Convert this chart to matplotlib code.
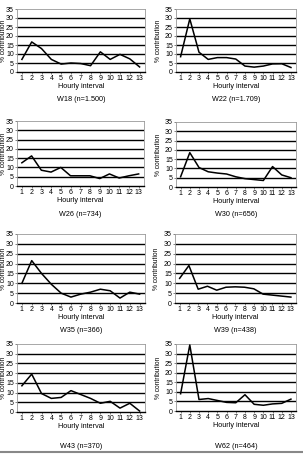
import matplotlib
matplotlib.use("Agg")
import matplotlib.pyplot as plt
from matplotlib.lines import Line2D

plt.rcParams['font.family'] = ['Liberation Sans', 'DejaVu Sans']

hours = list(range(1, 14))
w18 = [7, 16.7, 13, 7, 4.4, 5, 4.7, 3.5, 11.2, 7, 9.8, 7.3, 2.8]
w22 = [8.5, 29.5, 11, 7, 8, 8, 7.2, 3.3, 2.7, 3.3, 4.5, 4.6, 2.5]
w26 = [12.5, 16.2, 8.5, 7.5, 10, 5.5, 5.5, 5.5, 4, 6.5, 4.3, 5.5, 6.5]
w30 = [5.5, 18.5, 10.5, 8.2, 7.5, 7, 5.5, 4.5, 4, 3.5, 11, 6.5, 5]
w35 = [10, 21.5, 15, 9.5, 5, 3, 4.5, 5.5, 7, 6.2, 2.5, 5.5, 4.5]
w39 = [12.5, 19, 7, 8.5, 6.5, 8, 8.2, 8, 7.2, 4.5, 4, 3.5, 3]
w43 = [13.5, 19.5, 9.5, 7, 7.5, 11, 9, 7, 4.5, 5.5, 2, 4.5, 0.5]
w62 = [9, 34.5, 6, 6.5, 5.5, 4.5, 4.3, 8.5, 3.5, 3, 3.7, 4, 6.2]

series = [w18, w22, w26, w30, w35, w39, w43, w62]
titles = ["W18 (n=1.500)", "W22 (n=1.709)", "W26 (n=734)", "W30 (n=656)",
          "W35 (n=366)", "W39 (n=438)", "W43 (n=370)", "W62 (n=464)"]
yticks = [0, 5, 10, 15, 20, 25, 30, 35]
xlabel = "Hourly interval"
ylabel = "% contribution"

W, H = 303, 454
fig = plt.figure(figsize=(W / 100, H / 100), dpi=100)

# pixel boxes: (left, right, top, bottom, title y, ylabel x)
boxes = [
    (17, 145, 9, 72, 100, 3.3), (176, 296, 9, 72, 100, 158),
    (17, 144, 121, 186, 215, 3.3), (176, 296, 122, 187, 215, 158),
    (17, 145, 234, 303, 330, 3.3), (175, 296, 234, 303, 330, 157),
    (17, 145, 344, 412, 447, 3.3), (176, 296, 344, 411, 447, 158),
]

fs = 5.0
for data, title, (l, r, t, b, ty, lx) in zip(series, titles, boxes):
    ax = fig.add_axes([l / W, 1 - b / H, (r - l) / W, (b - t) / H])
    ax.set_xlim(0.5, 13.55)
    ax.set_ylim(0, 35)
    for v in yticks[1:-1]:
        ax.axhline(v, color='black', lw=1.0, zorder=1)
    ax.plot(hours, data, color='black', lw=1.1, zorder=3)
    ax.set_xticks(hours)
    ax.set_yticks(yticks)
    ax.tick_params(labelsize=fs, length=1.5, width=0.5, color='#555555', pad=0.7)
    for s in ['top', 'right', 'left']:
        ax.spines[s].set_color('#999999')
        ax.spines[s].set_linewidth(0.6)
    ax.spines['bottom'].set_color('black')
    ax.spines['bottom'].set_linewidth(1.0)
    ax.set_xlabel(xlabel, fontsize=fs + 0.2, labelpad=1)
    ax.set_ylabel(ylabel, fontsize=4.8, va='center')
    ax.yaxis.set_label_coords((lx - l) / (r - l), 0.5)
    fig.text((l + r) / 2 / W, 1 - ty / H, title, fontsize=fs + 0.2, ha='center', va='center')

fig.add_artist(Line2D([0, 1], [1 - 452 / H, 1 - 452 / H], color='#888888', lw=1.5))

fig.savefig("out.png", dpi=100)
